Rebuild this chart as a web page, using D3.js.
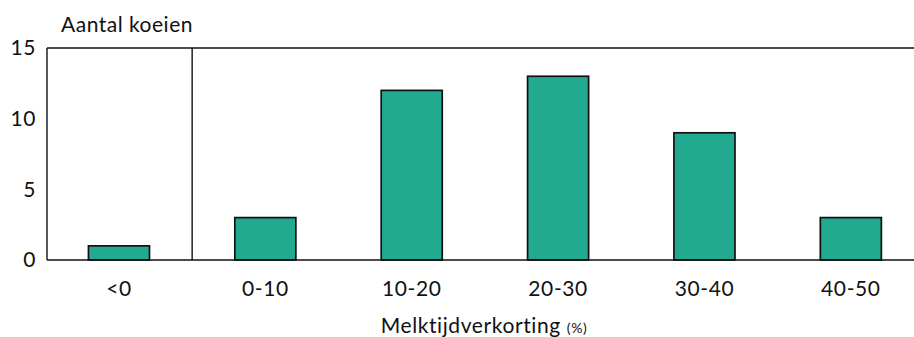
<!DOCTYPE html>
<html>
<head>
<meta charset="utf-8">
<script src="https://cdn.jsdelivr.net/npm/d3@7"></script>
<style>
  html, body { margin: 0; padding: 0; background: #fff; }
  svg { display: block; font-family: Lato, "Open Sans", sans-serif; }
</style>
</head>
<body>
<svg id="chart" width="914" height="337"></svg>
<script>
// Number of cows per class of milking-time reduction
const categories = ["<0", "0-10", "10-20", "20-30", "30-40", "40-50"];
const cows = [1, 3, 12, 13, 9, 3];
const yTicks = [0, 5, 10, 15];

const svg = d3.select("#chart");
const plotLeft = 47, plotTop = 48, plotBottom = 260, plotRight = 914;
const fontSize = 21;

const x = d3.scaleBand()
  .domain(categories)
  .range([plotLeft - 1, plotLeft - 1 + 6 * 146.3])
  .paddingInner(0.583)
  .paddingOuter(0.29);

const y = d3.scaleLinear().domain([0, 15]).range([plotBottom, plotTop]);

// Bars
svg.append("g").selectAll("rect")
  .data(categories.map((c, i) => ({ c, v: cows[i] })))
  .join("rect")
  .attr("x", d => x(d.c))
  .attr("y", d => y(d.v))
  .attr("width", x.bandwidth())
  .attr("height", d => y(0) - y(d.v))
  .attr("fill", "#21aa90")
  .attr("stroke", "#111")
  .attr("stroke-width", 1.7);

// Frame: left, top and bottom lines
const frame = svg.append("g").attr("stroke", "#111").attr("stroke-width", 1.4);
frame.append("line").attr("x1", plotLeft).attr("x2", plotLeft).attr("y1", y(15)).attr("y2", y(0));
frame.append("line").attr("x1", plotLeft).attr("x2", plotRight).attr("y1", y(15)).attr("y2", y(15));
frame.append("line").attr("x1", plotLeft).attr("x2", plotRight).attr("y1", y(0)).attr("y2", y(0));

// Separator between negative and positive classes
const sepX = (x("<0") + x.bandwidth() + x("0-10")) / 2;
frame.append("line").attr("x1", sepX).attr("x2", sepX).attr("y1", y(15)).attr("y2", y(0));

// Y axis labels
const yAxis = svg.append("g")
  .attr("transform", `translate(${plotLeft},0)`)
  .call(d3.axisLeft(y).tickValues(yTicks).tickSize(0).tickPadding(11));
yAxis.select(".domain").remove();
yAxis.selectAll("text").attr("font-size", fontSize).attr("fill", "#111")
  .attr("font-family", "Lato, sans-serif").attr("letter-spacing", 0.6);

// X axis labels
const xAxis = svg.append("g")
  .attr("transform", `translate(0,${plotBottom})`)
  .call(d3.axisBottom(x).tickSize(0).tickPadding(21));
xAxis.select(".domain").remove();
xAxis.selectAll("text").attr("font-size", fontSize).attr("fill", "#111")
  .attr("font-family", "Lato, sans-serif").attr("letter-spacing", 0.6);

// Titles
svg.append("text")
  .attr("x", 61).attr("y", 32)
  .attr("font-size", fontSize).attr("fill", "#111")
  .attr("letter-spacing", 0.5)
  .text("Aantal koeien");

const xt = svg.append("text")
  .attr("x", 484).attr("y", 333)
  .attr("text-anchor", "middle")
  .attr("font-size", fontSize).attr("fill", "#111")
  .attr("letter-spacing", 0.6);
xt.append("tspan").text("Melktijdverkorting ");
xt.append("tspan").attr("font-size", 14).text("(%)");
</script>
</body>
</html>
